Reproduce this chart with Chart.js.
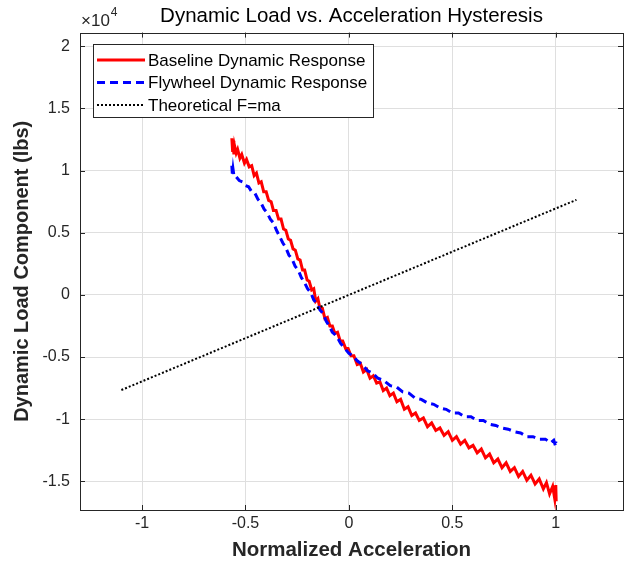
<!DOCTYPE html>
<html>
<head>
<meta charset="utf-8">
<title>Dynamic Load vs. Acceleration Hysteresis</title>
<script src="https://cdn.jsdelivr.net/npm/chart.js@4.4.0/dist/chart.umd.min.js"></script>
<style>
  html, body { margin: 0; padding: 0; background: #fff; }
</style>
</head>
<body>
<canvas id="chart" width="633" height="571"></canvas>
<script>
// Axis limits and ticks (load in lbs, labelled in units of 10^4)
const xMin = -1.3;
const xMax = 1.325;
const yMin = -17300;
const yMax = 21100;
const xTickValues = [-1, -0.5, 0, 0.5, 1];
const yTickValues = [-15000, -10000, -5000, 0, 5000, 10000, 15000, 20000];

// Baseline dynamic response: [normalized acceleration, load (lbs)]
const baselinePoints = [
  [-0.566, 12600], [-0.562, 11500], [-0.560, 12400], [-0.556, 11300], [-0.553, 12000],
  [-0.545, 11400], [-0.538, 11700], [-0.527, 11000], [-0.518, 11300], [-0.505, 10600],
  [-0.495, 10900], [-0.482, 10300], [-0.470, 10400], [-0.458, 9600], [-0.447, 9800],
  [-0.435, 9000], [-0.424, 9100], [-0.412, 8300], [-0.400, 8300], [-0.388, 7600],
  [-0.376, 7500], [-0.365, 6800], [-0.352, 6800], [-0.340, 6100], [-0.328, 6100],
  [-0.316, 5300], [-0.305, 5200], [-0.293, 4500], [-0.282, 4400], [-0.270, 3700],
  [-0.259, 3600], [-0.247, 2900], [-0.236, 2800], [-0.224, 2000], [-0.214, 2000],
  [-0.202, 1200], [-0.192, 1100], [-0.180, 400], [-0.170, 500], [-0.160, -500],
  [-0.150, -300], [-0.140, -1100], [-0.128, -1100], [-0.116, -1900], [-0.104, -1800],
  [-0.092, -2500], [-0.080, -2500], [-0.068, -3100], [-0.055, -3000], [-0.042, -3700],
  [-0.030, -3700], [-0.016, -4300], [-0.004, -4300], [0.010, -4900], [0.024, -4900],
  [0.040, -5600], [0.055, -5500], [0.070, -6200], [0.086, -6000], [0.102, -6700],
  [0.118, -6500], [0.134, -7100], [0.150, -7000], [0.166, -7700], [0.182, -7500],
  [0.198, -8100], [0.215, -7900], [0.232, -8600], [0.250, -8400], [0.268, -9200],
  [0.286, -9000], [0.304, -9700], [0.322, -9500], [0.340, -10100], [0.360, -9900],
  [0.380, -10600], [0.400, -10300], [0.420, -10900], [0.440, -10700], [0.460, -11300],
  [0.480, -11000], [0.500, -11700], [0.520, -11400], [0.540, -12000], [0.560, -11700],
  [0.580, -12300], [0.600, -12100], [0.620, -12700], [0.640, -12400], [0.660, -13100],
  [0.680, -12800], [0.700, -13500], [0.720, -13200], [0.740, -13900], [0.760, -13500],
  [0.780, -14200], [0.800, -13900], [0.820, -14600], [0.840, -14200], [0.860, -14900],
  [0.880, -14500], [0.900, -15200], [0.920, -14800], [0.940, -15600], [0.955, -15100],
  [0.970, -16000], [0.985, -15400], [0.995, -16400], [1.000, -15300], [1.002, -16600],
  [1.000, -15800]
];

// Flywheel dynamic response: [normalized acceleration, load (lbs)]
const flywheelPoints = [
  [-0.566, 10400], [-0.563, 9600], [-0.560, 10100], [-0.555, 9500], [-0.545, 9500],
  [-0.530, 9200], [-0.515, 9100], [-0.500, 8800], [-0.485, 8700], [-0.470, 8300],
  [-0.455, 8200], [-0.440, 7700], [-0.425, 7400], [-0.410, 6900], [-0.395, 6600],
  [-0.380, 6100], [-0.365, 5800], [-0.350, 5200], [-0.335, 4700], [-0.320, 4200],
  [-0.305, 3800], [-0.290, 3200], [-0.275, 2900], [-0.260, 2300], [-0.245, 2000],
  [-0.230, 1400], [-0.215, 1000], [-0.200, 500], [-0.185, 200], [-0.170, -400],
  [-0.155, -700], [-0.140, -1200], [-0.125, -1500], [-0.110, -2100], [-0.095, -2500],
  [-0.080, -3000], [-0.060, -3300], [-0.040, -3900], [-0.020, -4300], [0.000, -4700],
  [0.020, -4900], [0.040, -5300], [0.065, -5600], [0.090, -6100], [0.115, -6300],
  [0.140, -6700], [0.170, -6900], [0.200, -7300], [0.230, -7400], [0.260, -7800],
  [0.290, -7900], [0.320, -8300], [0.350, -8400], [0.380, -8700], [0.410, -8800],
  [0.440, -9100], [0.470, -9200], [0.500, -9500], [0.530, -9500], [0.560, -9800],
  [0.590, -9800], [0.620, -10100], [0.650, -10100], [0.680, -10400], [0.710, -10500],
  [0.740, -10700], [0.770, -10800], [0.800, -11000], [0.830, -11100], [0.860, -11400],
  [0.890, -11400], [0.920, -11600], [0.950, -11600], [0.975, -11900], [0.990, -11700],
  [1.000, -12200], [1.000, -11800]
];

// Theoretical F = ma line end points
const theoreticalPoints = [[-1.1, -7650], [1.1, 7650]];

const seriesLabels = ["Baseline Dynamic Response", "Flywheel Dynamic Response", "Theoretical F=ma"];

const FONT = "Liberation Sans, Arial, Helvetica, sans-serif";
const AXIS_COLOR = "#262626";
const GRID_COLOR = "#dfdfdf";

function toXY(points) {
  return points.map((p) => ({ x: p[0], y: p[1] }));
}

// Box around the axes plus MATLAB style inward ticks
const axesBox = {
  id: "axesBox",
  afterDatasetsDraw(chart) {
    const { ctx, chartArea: a, scales } = chart;
    const len = 5;
    ctx.save();
    ctx.strokeStyle = AXIS_COLOR;
    ctx.lineWidth = 1;
    ctx.beginPath();
    xTickValues.forEach((v) => {
      const px = Math.round(scales.x.getPixelForValue(v)) + 0.5;
      ctx.moveTo(px, a.bottom);
      ctx.lineTo(px, a.bottom - len);
      ctx.moveTo(px, a.top);
      ctx.lineTo(px, a.top + len);
    });
    yTickValues.forEach((v) => {
      const py = Math.round(scales.y.getPixelForValue(v)) + 0.5;
      ctx.moveTo(a.left, py);
      ctx.lineTo(a.left + len, py);
      ctx.moveTo(a.right, py);
      ctx.lineTo(a.right - len, py);
    });
    ctx.stroke();
    ctx.strokeRect(Math.round(a.left) + 0.5, Math.round(a.top) + 0.5,
      Math.round(a.right - a.left), Math.round(a.bottom - a.top));
    ctx.restore();
  },
};

// Exponent label and legend box inside the axes
const extras = {
  id: "extras",
  afterDraw(chart) {
    const { ctx, chartArea: a } = chart;
    ctx.save();
    // x10^4
    ctx.fillStyle = AXIS_COLOR;
    ctx.textBaseline = "middle";
    ctx.textAlign = "left";
    ctx.font = "17px " + FONT;
    const base = "\u00d710";
    ctx.fillText(base, a.left + 1, 21);
    const w = ctx.measureText(base).width;
    ctx.font = "12px " + FONT;
    ctx.fillText("4", a.left + 1 + w + 1, 13);

    // legend
    const lx = 93, ly = 44, lw = 280, lh = 73;
    ctx.fillStyle = "#fff";
    ctx.fillRect(lx, ly, lw, lh);
    ctx.strokeStyle = AXIS_COLOR;
    ctx.lineWidth = 1;
    ctx.strokeRect(lx + 0.5, ly + 0.5, lw, lh);
    ctx.font = "17px " + FONT;
    chart.data.datasets.forEach((ds, i) => {
      const y = ly + 16 + i * 22.5;
      ctx.save();
      ctx.strokeStyle = ds.borderColor;
      ctx.lineWidth = ds.borderWidth;
      ctx.setLineDash(ds.borderDash || []);
      ctx.beginPath();
      ctx.moveTo(lx + 4, y);
      ctx.lineTo(lx + 52, y);
      ctx.stroke();
      ctx.restore();
      ctx.fillStyle = "#000";
      ctx.fillText(ds.label, lx + 55, y + 1);
    });
    ctx.restore();
  },
};

new Chart(document.getElementById("chart"), {
  type: "scatter",
  data: {
    datasets: [
      {
        label: seriesLabels[0],
        data: toXY(baselinePoints),
        showLine: true,
        borderColor: "#ff0000",
        borderWidth: 3,
        pointRadius: 0,
        order: 2,
      },
      {
        label: seriesLabels[1],
        data: toXY(flywheelPoints),
        showLine: true,
        borderColor: "#0000ff",
        borderWidth: 3,
        borderDash: [8, 5],
        pointRadius: 0,
        order: 1,
      },
      {
        label: seriesLabels[2],
        data: toXY(theoreticalPoints),
        showLine: true,
        borderColor: "#000000",
        borderWidth: 2,
        borderDash: [2, 2],
        pointRadius: 0,
        order: 0,
      },
    ],
  },
  options: {
    responsive: false,
    devicePixelRatio: 1,
    animation: false,
    layout: { padding: { left: 0, right: 10, top: 0, bottom: 0 } },
    plugins: {
      legend: { display: false },
      tooltip: { enabled: false },
      title: {
        display: true,
        fullSize: false,
        text: "Dynamic Load vs. Acceleration Hysteresis",
        color: "#000",
        font: { family: FONT, size: 20.5, weight: "normal" },
        padding: { top: 4, bottom: 4 },
      },
    },
    scales: {
      x: {
        type: "linear",
        min: xMin,
        max: xMax,
        afterBuildTicks: (s) => {
          s.ticks = xTickValues.map((v) => ({ value: v }));
        },
        afterFit: (s) => {
          s.height = 61;
        },
        ticks: {
          callback: (v) => v,
          color: AXIS_COLOR,
          font: { family: FONT, size: 16 },
          padding: 4,
          maxRotation: 0,
        },
        grid: { color: GRID_COLOR, drawTicks: false },
        border: { display: false },
        title: {
          display: true,
          text: "Normalized Acceleration",
          color: AXIS_COLOR,
          font: { family: FONT, size: 20.5, weight: "bold" },
          padding: { bottom: 8 },
        },
      },
      y: {
        type: "linear",
        min: yMin,
        max: yMax,
        afterBuildTicks: (s) => {
          s.ticks = yTickValues.map((v) => ({ value: v }));
        },
        afterFit: (s) => {
          s.width = 80;
        },
        ticks: {
          callback: (v) => v / 10000,
          color: AXIS_COLOR,
          font: { family: FONT, size: 16 },
          padding: 10,
        },
        grid: { color: GRID_COLOR, drawTicks: false },
        border: { display: false },
        title: {
          display: true,
          text: "Dynamic Load Component (lbs)",
          color: AXIS_COLOR,
          font: { family: FONT, size: 20, weight: "bold" },
          padding: { top: 10 },
        },
      },
    },
  },
  plugins: [axesBox, extras],
});
</script>
</body>
</html>
